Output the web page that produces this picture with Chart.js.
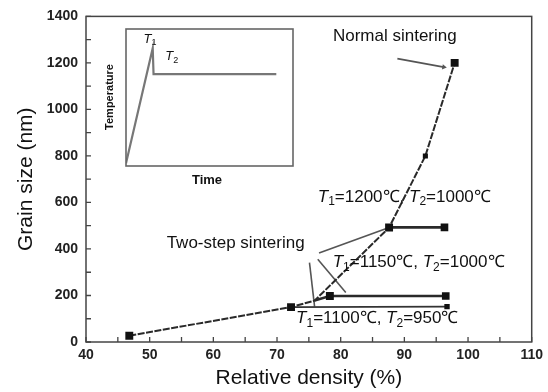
<!DOCTYPE html>
<html>
<head>
<meta charset="utf-8">
<script src="https://cdn.jsdelivr.net/npm/chart.js@4.4.1/dist/chart.umd.min.js"></script>
<style>
  html, body { margin: 0; padding: 0; background: #fff; }
  #wrap { position: relative; width: 548px; height: 392px; background: #fff; }
  #main { position: absolute; left: 0; top: 0; }
  #inset { position: absolute; left: 124px; top: 27px; }
</style>
</head>
<body>
<div id="wrap">
  <canvas id="main" width="548" height="392"></canvas>
  <canvas id="inset" width="171" height="141"></canvas>
</div>
<script>
// ---------------- data ----------------
// Normal sintering: relative density (%) vs grain size (nm)
const normalDensity = [46.8, 72.2, 75.9, 87.6, 93.3, 97.9];
const normalGrain   = [27, 150, 178, 492, 800, 1200];

// Two-step sintering runs
const ts1200Density = [87.6, 96.3];
const ts1200Grain   = [493, 493];
const ts1150Density = [75.9, 78.3, 96.5];
const ts1150Grain   = [178, 198, 198];
const ts1100Density = [72.2, 96.7];
const ts1100Grain   = [150, 152];

// Leader lines for the annotations (data coordinates)
const arrowNormalDensity = [88.9, 96.2];
const arrowNormalGrain   = [1218, 1182];
const leaderADensity = [76.6, 87.4];
const leaderAGrain   = [383, 490];
const leaderBDensity = [76.4, 80.8];
const leaderBGrain   = [356, 213];
const leaderCDensity = [75.1, 75.9];
const leaderCGrain   = [341, 152];

// Axis ticks
const xTickValues = [40, 50, 60, 70, 80, 90, 100, 110];
const yTickValues = [0, 200, 400, 600, 800, 1000, 1200, 1400];
const xMinorTicks = [45, 55, 65, 75, 85, 95, 105];
const yMinorTicks = [100, 300, 500, 700, 900, 1100, 1300];

// Inset schematic: time vs temperature (normalized)
const insetTime = [0, 0.16, 0.165, 0.90];
const insetTemp = [0.02, 0.86, 0.67, 0.67];

// ---------------- helpers ----------------
const FONT = '"Liberation Sans", Arial, Helvetica, sans-serif';
function pts(xs, ys) { return xs.map((x, i) => ({ x: x, y: ys[i] })); }

function drawRich(ctx, parts, x, y, size, align, weight) {
  const w = weight ? weight + ' ' : '';
  const fontOf = p => (p.it ? 'italic ' : '') + w + (p.sub ? Math.round(size * 0.68) : size) + 'px ' + FONT;
  const widths = parts.map(p => { ctx.font = fontOf(p); return ctx.measureText(p.t).width; });
  const total = widths.reduce((a, b) => a + b, 0);
  let cx = align === 'center' ? x - total / 2 : x;
  ctx.textBaseline = 'middle';
  ctx.textAlign = 'left';
  parts.forEach((p, i) => {
    ctx.font = fontOf(p);
    ctx.fillText(p.t, cx, y + (p.sub ? size * 0.3 : 0));
    cx += widths[i];
  });
}
function tLabel(a, b) {
  return [
    { t: 'T', it: true }, { t: '1', sub: true }, { t: '=' + a + '\u2103, ' },
    { t: 'T', it: true }, { t: '2', sub: true }, { t: '=' + b + '\u2103' }
  ];
}

// ---------------- main chart plugin ----------------
const mainDecor = {
  id: 'mainDecor',
  beforeDatasetsDraw(chart) {
    const { ctx, scales: { x, y } } = chart;
    ctx.save();
    const px = x.getPixelForValue(73.0), py = y.getPixelForValue(100);
    ctx.fillStyle = '#fff';
    ctx.fillRect(px - 2, py - 10, 164, 21);
    ctx.restore();
  },
  afterDatasetsDraw(chart) {
    const { ctx, chartArea: a, scales: { x, y } } = chart;
    ctx.save();
    // frame
    ctx.strokeStyle = '#444';
    ctx.lineWidth = 1.5;
    ctx.strokeRect(a.left, a.top, a.right - a.left, a.bottom - a.top);
    // inward tick marks
    ctx.lineWidth = 1.3;
    ctx.beginPath();
    xTickValues.concat(xMinorTicks).forEach(v => {
      const p = x.getPixelForValue(v);
      ctx.moveTo(p, a.bottom); ctx.lineTo(p, a.bottom - 5);
    });
    yTickValues.concat(yMinorTicks).forEach(v => {
      const p = y.getPixelForValue(v);
      ctx.moveTo(a.left, p); ctx.lineTo(a.left + 5, p);
    });
    ctx.stroke();

    // annotations
    ctx.fillStyle = '#111';
    ctx.textBaseline = 'middle';
    ctx.textAlign = 'center';
    ctx.font = '17px ' + FONT;
    ctx.fillText('Normal sintering', x.getPixelForValue(88.5), y.getPixelForValue(1315));
    ctx.fillText('Two-step sintering', x.getPixelForValue(63.5), y.getPixelForValue(424));
    drawRich(ctx, tLabel(1200, 1000), x.getPixelForValue(76.4), y.getPixelForValue(624), 17, 'left');
    drawRich(ctx, tLabel(1150, 1000), x.getPixelForValue(78.75), y.getPixelForValue(341), 17, 'left');
    drawRich(ctx, tLabel(1100, 950), x.getPixelForValue(73.0), y.getPixelForValue(100), 17, 'left');

    // inset labels (outside the inset box)
    ctx.font = 'bold 13px ' + FONT;
    ctx.textAlign = 'center';
    ctx.fillText('Time', 207, 180);
    ctx.save();
    ctx.translate(110, 97);
    ctx.rotate(-Math.PI / 2);
    ctx.font = 'bold 11px ' + FONT;
    ctx.fillText('Temperature', 0, 0);
    ctx.restore();
    ctx.restore();
  }
};

const lineColor = '#2a2a2a';
const leaderColor = '#555';
function leader(xs, ys) {
  return { data: pts(xs, ys), showLine: true, borderColor: leaderColor, borderWidth: 1.6, pointRadius: 0 };
}

new Chart(document.getElementById('main'), {
  type: 'scatter',
  data: {
    datasets: [
      {
        label: 'Normal sintering',
        data: pts(normalDensity, normalGrain),
        showLine: true, borderColor: lineColor, borderWidth: 2, borderDash: [7, 1.5],
        pointStyle: 'rect', pointRadius: [5.6, 5.6, 0, 5.6, 3.6, 5.6],
        pointBackgroundColor: '#111', pointBorderColor: '#111', pointBorderWidth: 0
      },
      {
        label: 'T1=1200, T2=1000',
        data: pts(ts1200Density, ts1200Grain),
        showLine: true, borderColor: '#2a2a2a', borderWidth: 2.6,
        pointStyle: 'rect', pointRadius: [0, 5.4],
        pointBackgroundColor: '#111', pointBorderColor: '#111', pointBorderWidth: 0
      },
      {
        label: 'T1=1150, T2=1000',
        data: pts(ts1150Density, ts1150Grain),
        showLine: true, borderColor: '#2a2a2a', borderWidth: 2.6,
        pointStyle: 'rect', pointRadius: [0, 5.6, 5.4],
        pointBackgroundColor: '#111', pointBorderColor: '#111', pointBorderWidth: 0
      },
      {
        label: 'T1=1100, T2=950',
        data: pts(ts1100Density, ts1100Grain),
        showLine: true, borderColor: '#333', borderWidth: 1.8,
        pointStyle: 'rect', pointRadius: [0, 3.8],
        pointBackgroundColor: '#111', pointBorderColor: '#111', pointBorderWidth: 0
      },
      {
        data: pts(arrowNormalDensity, arrowNormalGrain),
        showLine: true, borderColor: leaderColor, borderWidth: 1.8,
        pointStyle: 'triangle', pointRadius: [0, 3], pointRotation: 100,
        pointBackgroundColor: leaderColor, pointBorderColor: leaderColor, pointBorderWidth: 0
      },
      leader(leaderADensity, leaderAGrain),
      leader(leaderBDensity, leaderBGrain),
      leader(leaderCDensity, leaderCGrain)
    ]
  },
  options: {
    responsive: false,
    animation: false,
    events: [],
    layout: { padding: { top: 12, right: 13, left: 0, bottom: 0 } },
    plugins: { legend: { display: false }, tooltip: { enabled: false } },
    scales: {
      x: {
        type: 'linear', min: 40, max: 110,
        afterBuildTicks(s) { s.ticks = xTickValues.map(v => ({ value: v })); },
        ticks: { font: { family: FONT, size: 14, weight: 'bold' }, color: '#222', padding: 5, maxRotation: 0, autoSkip: false,
                 callback: v => String(v) },
        grid: { display: false, drawTicks: false },
        border: { display: false },
        title: { display: true, text: 'Relative density (%)', font: { family: FONT, size: 21 }, color: '#111', padding: { top: 0, bottom: 1 } },
        afterFit(s) { s.height = 50; }
      },
      y: {
        type: 'linear', min: 0, max: 1400,
        afterBuildTicks(s) { s.ticks = yTickValues.map(v => ({ value: v })); },
        ticks: { font: { family: FONT, size: 14, weight: 'bold' }, color: '#222', padding: 8, autoSkip: false,
                 callback: v => String(v) },
        grid: { display: false, drawTicks: false },
        border: { display: false },
        title: { display: true, text: 'Grain size (nm)', font: { family: FONT, size: 21 }, color: '#111', padding: { top: 14, bottom: 0 } },
        afterFit(s) { s.width = 86; }
      }
    }
  },
  plugins: [mainDecor]
});

// ---------------- inset chart ----------------
const insetDecor = {
  id: 'insetDecor',
  afterDatasetsDraw(chart) {
    const { ctx, chartArea: a, scales: { x, y } } = chart;
    ctx.save();
    ctx.strokeStyle = '#666';
    ctx.lineWidth = 1.6;
    ctx.strokeRect(a.left, a.top, a.right - a.left, a.bottom - a.top);
    ctx.fillStyle = '#111';
    drawRich(ctx, [{ t: 'T', it: true }, { t: '1', sub: true }], x.getPixelForValue(0.144), y.getPixelForValue(0.927), 13, 'center');
    drawRich(ctx, [{ t: 'T', it: true }, { t: '2', sub: true }], x.getPixelForValue(0.274), y.getPixelForValue(0.80), 13, 'center');
    ctx.restore();
  }
};

new Chart(document.getElementById('inset'), {
  type: 'scatter',
  data: {
    datasets: [{
      data: pts(insetTime, insetTemp),
      showLine: true, borderColor: '#777', borderWidth: 2.2, pointRadius: 0
    }]
  },
  options: {
    responsive: false,
    animation: false,
    events: [],
    layout: { padding: 2 },
    plugins: { legend: { display: false }, tooltip: { enabled: false } },
    scales: {
      x: { type: 'linear', min: 0, max: 1, display: false },
      y: { type: 'linear', min: 0, max: 1, display: false }
    }
  },
  plugins: [insetDecor]
});
</script>
</body>
</html>
